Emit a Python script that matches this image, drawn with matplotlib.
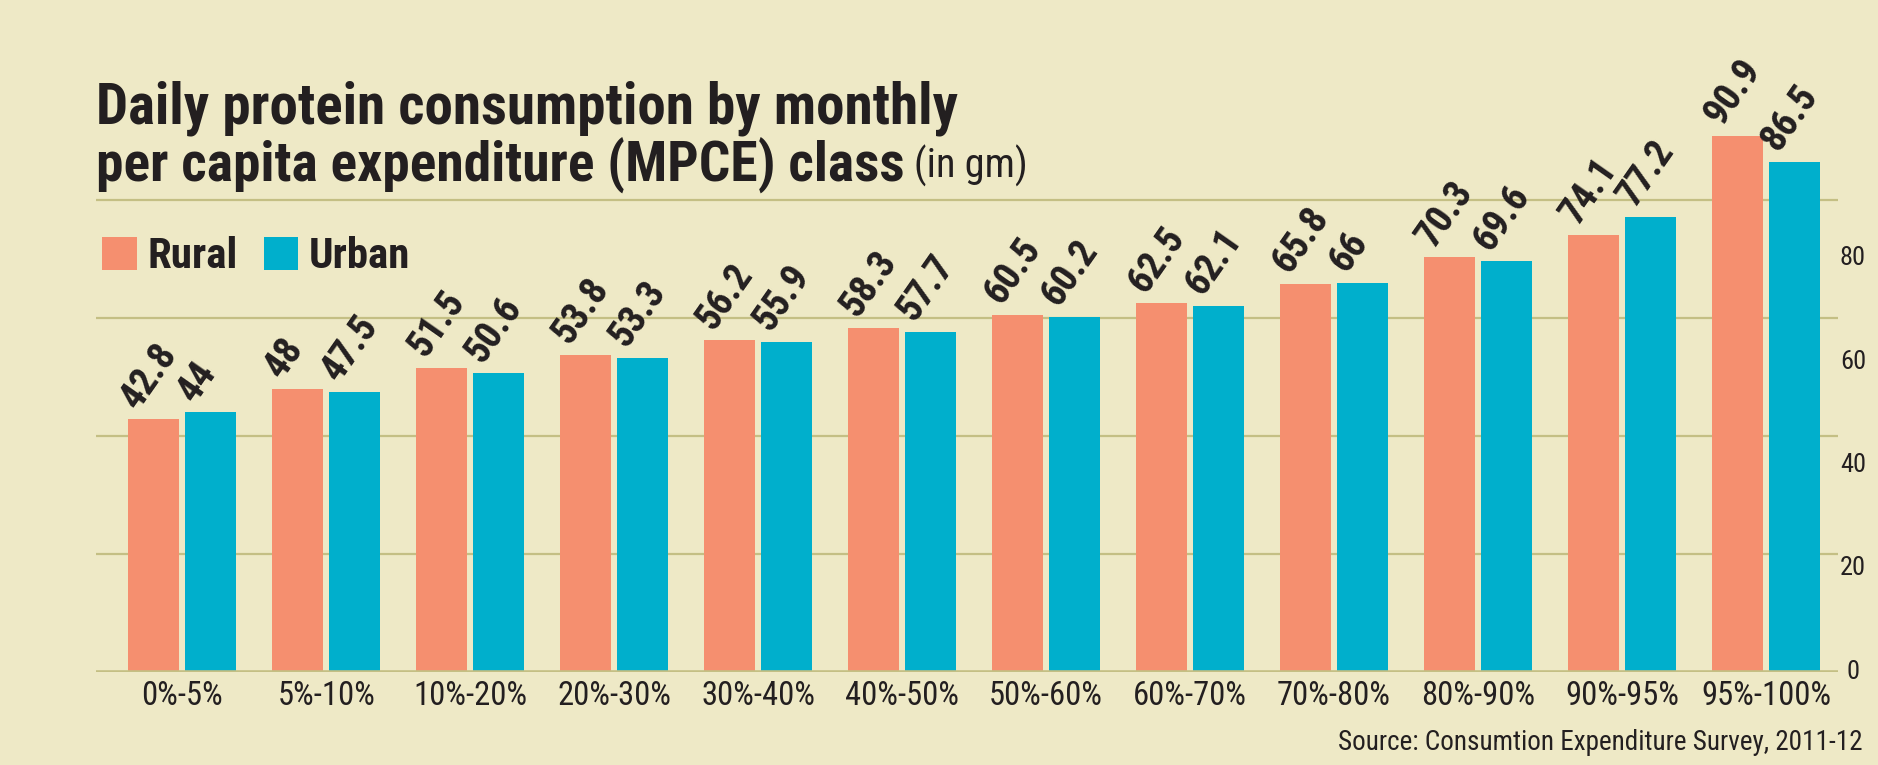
import matplotlib
matplotlib.use('Agg')
import matplotlib.pyplot as plt
from matplotlib import font_manager
import numpy as np

# data
classes = ['0%-5%', '5%-10%', '10%-20%', '20%-30%', '30%-40%', '40%-50%',
           '50%-60%', '60%-70%', '70%-80%', '80%-90%', '90%-95%', '95%-100%']
rural = [42.8, 48, 51.5, 53.8, 56.2, 58.3, 60.5, 62.5, 65.8, 70.3, 74.1, 90.9]
urban = [44, 47.5, 50.6, 53.3, 55.9, 57.7, 60.2, 62.1, 66, 69.6, 77.2, 86.5]
grid_values = [20, 40, 60, 80]
tick_labels = [0, 20, 40, 60, 80]

BG = '#EEE9C6'
RURAL_C = '#F58F6F'
URBAN_C = '#00AFCC'
GRID_C = '#C4BF84'
INK = '#231F20'

# the printed scale labels sit on a slightly compressed scale in the original
LABEL_SHIFT = 0.877


def pick_font():
    fonts = font_manager.fontManager.ttflist
    names = {f.name for f in fonts}
    for fam in ['Roboto Condensed', 'Liberation Sans Narrow', 'Open Sans Condensed',
                'Noto Sans Condensed', 'Lato Condensed']:
        if fam in names:
            return fam, 'normal'
    for fam in ['Roboto', 'Open Sans', 'Noto Sans', 'DejaVu Sans']:
        if any(f.name == fam and f.stretch == 'condensed' for f in fonts):
            return fam, 'condensed'
    return 'Liberation Sans', 'normal'


FAM, STRETCH = pick_font()
plt.rcParams['font.family'] = [FAM, 'DejaVu Sans']
plt.rcParams['font.stretch'] = STRETCH

fig = plt.figure(figsize=(18.78, 7.65), dpi=100, facecolor=BG)
ax = fig.add_axes([0.0511, 0.1216, 0.9276, 0.8784])
ax.set_facecolor(BG)

x = np.arange(len(classes))
w = 0.354
off = 0.198
ax.set_xlim(-0.6, 11.5)
ax.set_ylim(0, 113.9)

for g in grid_values:
    ax.axhline(g, color=GRID_C, lw=1.6, zorder=0)
ax.axhline(0, color=GRID_C, lw=2.6, zorder=3)

b1 = ax.bar(x - off, rural, w, color=RURAL_C, zorder=2, label='Rural')
b2 = ax.bar(x + off, urban, w, color=URBAN_C, zorder=2, label='Urban')

for xs, vals in [(x - off, rural), (x + off, urban)]:
    for xi, v in zip(xs, vals):
        ax.text(xi - w / 2 + 0.11, v + 0.7, f'{v:g}', rotation=55,
                rotation_mode='anchor', ha='left', va='bottom',
                fontsize=28, fontweight='bold', color=INK)

for s in ax.spines.values():
    s.set_visible(False)
ax.set_yticks([])
ax.set_xticks(x)
ax.set_xticklabels(classes, fontsize=23.5, color=INK)
ax.tick_params(axis='x', length=0, pad=6)

# right-hand scale labels
ytr = ax.get_yaxis_transform()
for t in tick_labels:
    ax.text(1.0086, t * LABEL_SHIFT, str(t), transform=ytr, ha='center',
            va='center', fontsize=19, color=INK)

# title
fig.text(96 / 1878, 1 - 108 / 765, 'Daily protein consumption by monthly',
         fontsize=41, fontweight='bold', color=INK, va='center', ha='left')
t2 = fig.text(96 / 1878, 1 - 166 / 765, 'per capita expenditure (MPCE) class',
              fontsize=40, fontweight='bold', color=INK, va='center', ha='left')
fig.canvas.draw()
bb = t2.get_window_extent(fig.canvas.get_renderer())
fig.text(bb.x1 / fig.bbox.width + 0.005, 1 - 166 / 765, '(in gm)',
         fontsize=29, color=INK, va='center', ha='left')

# legend
fig.legend(handles=[b1, b2], loc='center left',
           bbox_to_anchor=(0.043, 1 - 257 / 765), ncol=2, frameon=False,
           prop={'weight': 'bold', 'size': 31}, handlelength=0.8,
           handleheight=0.8, handletextpad=0.25, columnspacing=0.6,
           labelcolor=INK, borderpad=0)

fig.text(1862 / 1878, 1 - 742 / 765, 'Source: Consumtion Expenditure Survey, 2011-12',
         fontsize=19.5, color=INK, ha='right', va='center')

fig.savefig('out.png', dpi=100, facecolor=BG)
